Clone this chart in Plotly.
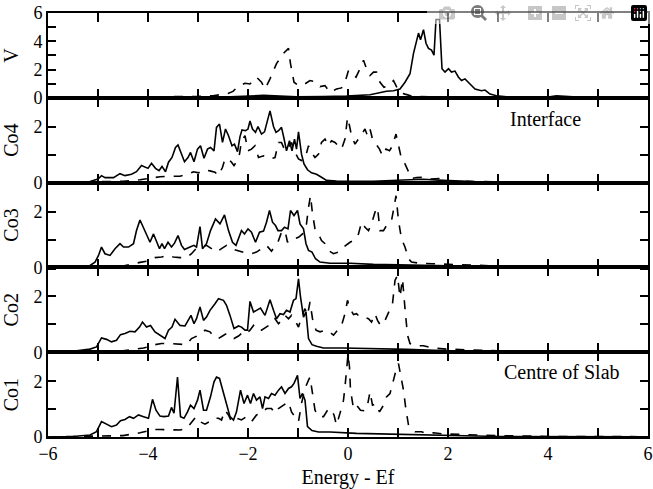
import plotly.graph_objects as go
from plotly.subplots import make_subplots

# ---------------- data ----------------
panel_names = ["V", "Co4", "Co3", "Co2", "Co1"]
x_range = [-6, 6]
V_range = [0, 6]
Co_range = [0, 3.04]

V_solid_E = [-6, -5.5, -5, -4, -3, -2.36, -1.69, -1.36, -1.03, -0.5, -0.03, 0.44, 0.64, 0.77, 0.91,
             1.04, 1.14, 1.24, 1.31, 1.37, 1.41, 1.45, 1.51, 1.56, 1.61, 1.67, 1.72, 1.76, 1.83, 1.88,
             1.94, 2.01, 2.07, 2.14, 2.21, 2.27, 2.34, 2.44, 2.54, 2.67, 2.74, 2.84, 2.97, 3.17, 3.5,
             4.0, 4.17, 4.5, 5, 6]
V_solid = [0, 0.01, 0.02, 0.03, 0.04, 0.07, 0.17, 0.12, 0.07, 0.08, 0.12, 0.22, 0.38, 0.46, 0.5,
           0.62, 1.10, 1.70, 3.14, 3.98, 4.58, 4.10, 4.82, 3.86, 3.50, 3.38, 3.02, 5.54, 5.54, 2.06,
           1.82, 2.06, 1.82, 1.89, 1.46, 1.22, 1.34, 0.98, 0.62, 0.5, 0.55, 0.26, 0.14, 0.07, 0.05,
           0.05, 0.14, 0.07, 0.03, 0.01]

V_dashed_E = [-6, -5, -4, -3.3, -3.0, -2.7, -2.5, -2.4, -2.3, -2.2, -2.06, -1.96, -1.83, -1.73, -1.66,
              -1.56, -1.43, -1.29, -1.19, -1.15, -1.08, -0.99, -0.88, -0.76, -0.66, -0.56, -0.46, -0.36,
              -0.23, -0.13, -0.06, 0.01, 0.07, 0.16, 0.24, 0.31, 0.37, 0.44, 0.51, 0.57, 0.64, 0.72,
              0.81, 0.91, 0.97, 1.04, 1.14, 1.27, 1.64, 2.5, 4, 6]
V_dashed = [0, 0.02, 0.04, 0.06, 0.1, 0.15, 0.25, 0.3, 0.45, 0.8, 1.03, 0.98, 1.46, 1.1, 0.62,
            1.34, 2.42, 3.14, 3.5, 2.42, 1.10, 0.86, 0.94, 1.22, 1.15, 0.79, 0.86, 0.38,
            0.62, 0.7, 1.10, 1.94, 1.7, 1.46, 2.06, 2.66, 2.06, 1.58, 1.82, 1.82, 1.10, 0.74,
            0.86, 1.22, 0.79, 0.38, 0.26, 0.12, 0.07, 0.04, 0.02, 0.01]

Co4_solid_E = [-6, -5.5, -5.16, -5.0, -4.93, -4.86, -4.69, -4.56, -4.46, -4.33, -4.23, -4.13, -4.06, -4.0,
               -3.93, -3.85, -3.78, -3.72, -3.65, -3.59, -3.52, -3.45, -3.40, -3.33, -3.27, -3.20, -3.15,
               -3.08, -3.01, -2.95, -2.88, -2.81, -2.75, -2.68, -2.63, -2.57, -2.51, -2.45, -2.39, -2.32,
               -2.27, -2.21, -2.16, -2.12, -2.05, -2.0, -1.96, -1.91, -1.85, -1.80, -1.73, -1.67, -1.61,
               -1.56, -1.49, -1.44, -1.39, -1.33, -1.28, -1.23, -1.17, -1.12, -1.07, -1.03, -0.99, -0.93,
               -0.88, -0.81, -0.73, -0.63, -0.53, -0.43, -0.23, 0.5, 1.24, 1.5, 1.9, 2.5, 3.5, 6]
Co4_solid = [0, 0.01, 0.04, 0.13, 0.25, 0.18, 0.18, 0.32, 0.25, 0.30, 0.39, 0.61, 0.57, 0.51,
             0.69, 0.51, 0.43, 0.58, 0.39, 0.73, 0.90, 1.26, 1.35, 0.99, 0.75, 0.90, 1.08,
             0.75, 1.20, 1.32, 0.87, 1.20, 1.26, 1.14, 1.98, 2.10, 1.44, 1.92, 1.68, 1.32,
             1.38, 1.11, 1.65, 1.89, 1.86, 1.92, 2.21, 1.92, 1.80, 2.01, 1.74, 1.82, 2.18,
             2.57, 2.01, 1.80, 1.86, 1.98, 1.58, 1.14, 1.50, 1.14, 1.56, 1.20, 1.82, 1.02,
             0.67, 0.46, 0.35, 0.30, 0.19, 0.08, 0.06, 0.05, 0.10, 0.12, 0.08, 0.04, 0.02, 0.01]

Co4_dashed_E = [-6, -5.5, -5, -4.5, -4.16, -3.96, -3.76, -3.56, -3.36, -3.19, -3.09, -2.99, -2.86, -2.76,
                -2.66, -2.59, -2.51, -2.46, -2.39, -2.33, -2.28, -2.23, -2.17, -2.13, -2.06, -2.0, -1.93,
                -1.86, -1.79, -1.69, -1.56, -1.46, -1.39, -1.33, -1.26, -1.19, -1.13, -1.06, -0.99, -0.93,
                -0.86, -0.79, -0.73, -0.66, -0.59, -0.53, -0.46, -0.39, -0.33, -0.26, -0.19, -0.13, -0.06,
                -0.01, 0.03, 0.07, 0.14, 0.21, 0.27, 0.34, 0.39, 0.44, 0.49, 0.56, 0.63, 0.69, 0.76,
                0.83, 0.89, 0.96, 1.01, 1.07, 1.14, 1.21, 1.27, 1.37, 1.51, 1.64, 1.84, 1.97, 3, 6]
Co4_dashed = [0, 0.01, 0.03, 0.05, 0.1, 0.15, 0.21, 0.23, 0.23, 0.31, 0.39, 0.35, 0.46, 0.42,
              0.37, 0.25, 0.55, 0.85, 0.85, 0.73, 0.61, 0.75, 1.02, 1.50, 1.68, 1.14, 1.20,
              1.32, 0.90, 0.96, 0.85, 0.90, 1.44, 1.44, 1.14, 1.26, 1.44, 1.08, 0.85, 0.79,
              0.85, 1.32, 1.08, 0.90, 1.02, 1.44, 1.56, 1.32, 1.50, 1.44, 1.32, 1.20, 1.56,
              2.33, 2.04, 1.68, 1.38, 1.56, 1.74, 1.92, 1.68, 1.92, 1.56, 1.38, 1.20, 0.96, 1.20,
              1.14, 1.32, 1.74, 1.32, 0.85, 0.67, 0.37, 0.15, 0.18, 0.19, 0.13, 0.15, 0.05, 0.03, 0.01]

Co3_solid_E = [-6, -5.5, -5.16, -5.06, -4.99, -4.93, -4.86, -4.76, -4.66, -4.56, -4.49, -4.39, -4.29, -4.23,
               -4.16, -4.09, -4.01, -3.96, -3.89, -3.83, -3.77, -3.72, -3.67, -3.60, -3.53, -3.47, -3.40,
               -3.33, -3.27, -3.16, -3.08, -3.03, -2.96, -2.91, -2.83, -2.75, -2.65, -2.56, -2.47, -2.39,
               -2.31, -2.24, -2.19, -2.13, -2.07, -2.0, -1.93, -1.85, -1.77, -1.69, -1.63, -1.57, -1.51,
               -1.45, -1.40, -1.33, -1.27, -1.20, -1.15, -1.08, -1.01, -0.96, -0.89, -0.84, -0.79, -0.72,
               -0.65, -0.56, -0.36, 0.04, 0.51, 1.5, 2.5, 6]
Co3_solid = [0, 0.02, 0.07, 0.19, 0.43, 0.73, 0.49, 0.43, 0.67, 0.85, 0.73, 0.73, 0.85, 1.32,
             1.70, 1.44, 1.11, 0.90, 1.20, 0.90, 0.67, 0.85, 0.67, 0.90, 0.73, 0.87, 1.14,
             0.79, 0.64, 0.73, 0.79, 0.73, 1.46, 0.67, 0.85, 1.32, 1.74, 1.56, 1.88, 1.32,
             0.90, 0.79, 1.02, 1.32, 1.20, 1.38, 1.26, 0.90, 1.26, 1.30, 1.62, 2.04, 1.62,
             1.50, 1.32, 1.32, 1.44, 1.38, 2.04, 1.86, 2.04, 1.56, 1.38, 0.85, 0.61, 0.55,
             0.31, 0.19, 0.15, 0.15, 0.11, 0.07, 0.04, 0.01]

Co3_dashed_E = [-6, -5.5, -5, -4.5, -4.16, -3.99, -3.86, -3.73, -3.63, -3.49, -3.36, -3.23, -3.13, -3.03,
                -2.93, -2.83, -2.73, -2.63, -2.53, -2.43, -2.33, -2.23, -2.13, -2.03, -1.93, -1.83, -1.73,
                -1.63, -1.53, -1.46, -1.39, -1.33, -1.26, -1.21, -1.16, -1.08, -0.99, -0.91, -0.83, -0.79,
                -0.75, -0.71, -0.66, -0.59, -0.53, -0.46, -0.37, -0.29, -0.19, -0.09, 0.04, 0.14, 0.21,
                0.27, 0.34, 0.41, 0.47, 0.54, 0.59, 0.64, 0.71, 0.79, 0.87, 0.92, 0.96, 1.01, 1.07,
                1.14, 1.21, 1.27, 1.44, 1.71, 1.97, 3, 4, 6]
Co3_dashed = [0, 0.01, 0.03, 0.05, 0.18, 0.23, 0.35, 0.37, 0.43, 0.37, 0.35, 0.35, 0.49, 0.69,
              0.73, 0.79, 0.67, 0.55, 0.67, 0.79, 0.67, 0.61, 0.55, 0.51, 0.49, 0.55, 0.67,
              0.79, 0.58, 0.79, 0.96, 1.26, 1.32, 0.90, 1.02, 1.02, 1.08, 1.20, 1.56, 2.15,
              2.57, 1.92, 1.38, 1.20, 0.96, 0.85, 0.58, 0.49, 0.55, 0.73, 0.90, 0.99, 1.20,
              1.62, 1.44, 1.32, 1.56, 1.98, 2.15, 1.32, 1.32, 1.56, 1.68, 2.15, 2.57, 1.68, 1.02,
              0.73, 0.31, 0.19, 0.15, 0.13, 0.11, 0.05, 0.02, 0.01]

Co2_solid_E = [-6, -5.5, -5.16, -5.03, -4.93, -4.83, -4.73, -4.63, -4.55, -4.46, -4.36, -4.26, -4.17, -4.11,
               -4.03, -3.95, -3.86, -3.76, -3.66, -3.59, -3.52, -3.46, -3.36, -3.26, -3.19, -3.14, -3.08,
               -3.03, -2.96, -2.89, -2.83, -2.76, -2.66, -2.59, -2.49, -2.43, -2.36, -2.28, -2.19, -2.13,
               -2.06, -2.01, -1.96, -1.89, -1.83, -1.75, -1.66, -1.56, -1.49, -1.43, -1.36, -1.29, -1.23,
               -1.16, -1.09, -1.04, -0.99, -0.95, -0.89, -0.84, -0.79, -0.72, -0.63, -0.49, -0.09, 0.51,
               1.17, 2.0, 3.0, 6]
Co2_solid = [0, 0.03, 0.11, 0.19, 0.51, 0.46, 0.37, 0.43, 0.63, 0.67, 0.75, 0.73, 0.90, 1.08,
             0.90, 0.96, 0.73, 0.61, 0.49, 0.79, 0.90, 1.18, 0.96, 0.94, 1.14, 1.32, 1.02,
             1.20, 1.62, 1.14, 1.26, 1.50, 1.74, 1.92, 1.86, 1.68, 1.32, 0.85, 0.94, 0.90,
             0.79, 0.79, 1.82, 1.44, 1.50, 1.58, 1.32, 1.88, 1.50, 1.20, 1.38, 1.35, 1.50,
             1.44, 1.86, 1.92, 2.63, 1.98, 1.26, 1.44, 0.49, 0.27, 0.21, 0.15, 0.15, 0.13,
             0.10, 0.05, 0.02, 0.01]

Co2_dashed_E = [-6, -5.5, -5, -4.5, -4.09, -3.99, -3.86, -3.73, -3.56, -3.36, -3.23, -3.13, -3.04, -2.96,
                -2.86, -2.76, -2.68, -2.59, -2.51, -2.43, -2.36, -2.28, -2.19, -2.09, -2.03, -1.96, -1.89,
                -1.83, -1.73, -1.63, -1.53, -1.46, -1.39, -1.33, -1.26, -1.19, -1.13, -1.06, -0.99, -0.93,
                -0.86, -0.81, -0.76, -0.71, -0.64, -0.56, -0.46, -0.37, -0.29, -0.21, -0.13, -0.06, -0.01,
                0.04, 0.11, 0.17, 0.24, 0.32, 0.41, 0.47, 0.54, 0.59, 0.65, 0.74, 0.83, 0.89, 0.94,
                0.99, 1.04, 1.09, 1.14, 1.19, 1.24, 1.34, 1.51, 1.71, 1.97, 3, 4, 6]
Co2_dashed = [0, 0.01, 0.03, 0.05, 0.15, 0.19, 0.27, 0.31, 0.31, 0.30, 0.27, 0.49, 0.58, 0.63,
              0.79, 0.73, 0.55, 0.49, 0.58, 0.67, 0.58, 0.49, 0.58, 0.73, 0.67, 0.79, 0.96,
              0.79, 0.79, 0.90, 1.02, 1.20, 1.02, 1.14, 1.32, 1.20, 1.32, 1.14, 0.90, 1.26,
              1.56, 1.32, 1.80, 1.20, 0.79, 0.73, 0.79, 0.73, 0.61, 0.79, 0.96, 1.38, 1.86,
              1.56, 1.35, 1.38, 1.26, 1.26, 1.20, 1.08, 1.38, 1.14, 0.96, 1.14, 1.50, 1.74, 2.57,
              2.75, 1.98, 2.63, 1.56, 0.61, 0.31, 0.23, 0.23, 0.15, 0.11, 0.05, 0.02, 0.01]

Co1_solid_E = [-6, -5.5, -5.16, -5.03, -4.93, -4.83, -4.73, -4.63, -4.55, -4.46, -4.37, -4.29, -4.19, -4.09,
               -3.99, -3.91, -3.84, -3.76, -3.68, -3.59, -3.53, -3.48, -3.41, -3.35, -3.28, -3.21, -3.15,
               -3.08, -3.01, -2.96, -2.89, -2.83, -2.75, -2.68, -2.63, -2.57, -2.49, -2.43, -2.36, -2.29,
               -2.23, -2.15, -2.08, -2.01, -1.95, -1.89, -1.83, -1.76, -1.71, -1.66, -1.59, -1.53, -1.46,
               -1.39, -1.33, -1.26, -1.19, -1.13, -1.08, -1.01, -0.96, -0.91, -0.86, -0.81, -0.72, -0.59,
               -0.36, 0.17, 0.84, 2.0, 3.0, 6]
Co1_solid = [0, 0.02, 0.07, 0.19, 0.55, 0.46, 0.37, 0.43, 0.58, 0.63, 0.73, 0.67, 0.79, 0.73,
             0.67, 1.35, 0.96, 0.75, 0.73, 0.75, 1.06, 0.85, 2.15, 0.73, 0.67, 0.90, 1.14,
             1.02, 1.32, 1.68, 0.96, 0.96, 1.44, 1.98, 2.15, 2.10, 1.56, 1.14, 0.73, 0.61,
             0.90, 1.68, 1.20, 1.50, 1.20, 1.56, 1.32, 1.44, 1.02, 1.44, 1.38, 1.56, 1.50,
             1.68, 1.80, 1.56, 1.74, 1.80, 1.92, 2.21, 1.38, 1.56, 1.32, 0.37, 0.23, 0.18,
             0.18, 0.13, 0.11, 0.05, 0.02, 0.01]

Co1_dashed_E = [-6, -5.5, -5, -4.5, -4.16, -3.99, -3.89, -3.76, -3.56, -3.36, -3.23, -3.13, -3.04, -2.96,
                -2.86, -2.77, -2.69, -2.59, -2.53, -2.46, -2.39, -2.33, -2.23, -2.13, -2.03, -1.93, -1.83,
                -1.73, -1.63, -1.53, -1.46, -1.39, -1.29, -1.19, -1.13, -1.06, -0.99, -0.93, -0.86, -0.79,
                -0.76, -0.71, -0.66, -0.59, -0.49, -0.41, -0.35, -0.28, -0.23, -0.16, -0.09, -0.06, -0.03,
                0.0, 0.03, 0.05, 0.11, 0.17, 0.25, 0.34, 0.39, 0.44, 0.49, 0.56, 0.63, 0.71, 0.77,
                0.84, 0.91, 0.96, 1.01, 1.05, 1.11, 1.16, 1.21, 1.25, 1.34, 1.47, 1.57, 1.71, 1.91,
                3, 4, 6]
Co1_dashed = [0, 0.01, 0.03, 0.05, 0.15, 0.23, 0.27, 0.27, 0.25, 0.25, 0.30, 0.55, 0.73, 0.55,
              0.46, 0.55, 0.67, 0.67, 0.61, 0.96, 0.79, 0.55, 0.67, 0.61, 0.73, 0.55, 0.79,
              0.85, 1.02, 1.02, 0.85, 1.02, 1.14, 1.26, 0.90, 0.73, 0.55, 1.20, 1.74, 2.04,
              2.15, 1.56, 0.96, 0.73, 0.73, 0.96, 1.02, 0.79, 0.43, 0.85, 1.32, 1.80, 2.39,
              2.96, 2.51, 1.68, 1.02, 1.14, 0.96, 0.94, 1.14, 1.62, 1.14, 1.20, 0.90, 1.14, 1.44,
              1.56, 2.04, 2.39, 2.63, 2.27, 1.68, 0.96, 0.43, 0.35, 0.19, 0.19, 0.13, 0.15, 0.11,
              0.05, 0.02, 0.01]

series = [
    (V_solid_E, V_solid, V_dashed_E, V_dashed),
    (Co4_solid_E, Co4_solid, Co4_dashed_E, Co4_dashed),
    (Co3_solid_E, Co3_solid, Co3_dashed_E, Co3_dashed),
    (Co2_solid_E, Co2_solid, Co2_dashed_E, Co2_dashed),
    (Co1_solid_E, Co1_solid, Co1_dashed_E, Co1_dashed),
]

# ---------------- figure ----------------
FONT = "Liberation Serif"
fig = make_subplots(rows=5, cols=1, shared_xaxes=True, vertical_spacing=0)

for i, (se, sv, de, dv) in enumerate(series):
    r = i + 1
    fig.add_trace(go.Scatter(x=se, y=sv, mode="lines",
                             line=dict(color="black", width=1.6), showlegend=False), row=r, col=1)
    fig.add_trace(go.Scatter(x=de, y=dv, mode="lines",
                             line=dict(color="black", width=1.6, dash="dash"), showlegend=False),
                  row=r, col=1)

for i in range(5):
    r = i + 1
    yr = V_range if i == 0 else Co_range
    fig.update_yaxes(row=r, col=1, range=yr, dtick=1, tick0=0, ticklabelstep=2,
                     ticks="inside", ticklen=8, tickwidth=2, tickcolor="black",
                     showline=True, linewidth=1.6, linecolor="black", mirror="ticks",
                     showgrid=False, zeroline=False, automargin=False,
                     title=dict(text=panel_names[i], font=dict(family=FONT, size=20, color="black")),
                     tickfont=dict(family=FONT, size=18, color="black"))
    fig.update_xaxes(row=r, col=1, range=x_range, dtick=1, tick0=0, ticklabelstep=2,
                     ticks="inside", ticklen=9, tickwidth=2, tickcolor="black",
                     showline=True, linewidth=1.6, linecolor="black", mirror="ticks",
                     showgrid=False, zeroline=False, showticklabels=(r == 5), automargin=False,
                     tickfont=dict(family=FONT, size=18, color="black"))
fig.update_xaxes(row=5, col=1,
                 title=dict(text="Energy - Ef", font=dict(family=FONT, size=20, color="black")))

fig.add_annotation(text="Interface", xref="x2", yref="y2", x=3.94, y=2.28, showarrow=False,
                   font=dict(family=FONT, size=20, color="black"))
fig.add_annotation(text="Centre of Slab", xref="x5", yref="y5", x=4.27, y=2.32, showarrow=False,
                   font=dict(family=FONT, size=20, color="black"))

fig.update_layout(width=653, height=489, margin=dict(l=48, r=5, t=13, b=52, autoexpand=False),
                  plot_bgcolor="white", paper_bgcolor="white")

fig.write_html("out.html", post_script="document.body.style.margin='0px';")
